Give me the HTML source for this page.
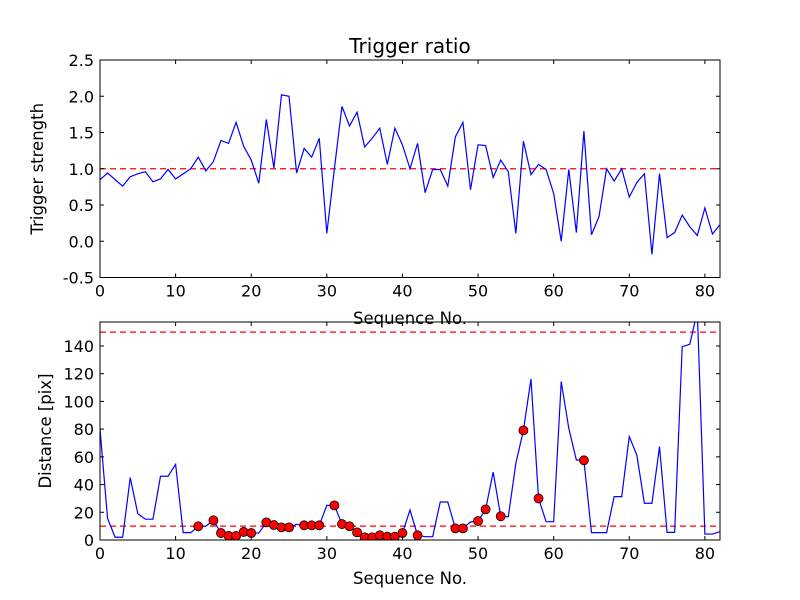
<!DOCTYPE html>
<html><head><meta charset="utf-8"><style>
body{margin:0;background:#fff}
svg{display:block;font-family:"DejaVu Sans","Liberation Sans",sans-serif}
</style></head><body>
<svg id="fig" width="800" height="600" xmlns="http://www.w3.org/2000/svg">
<rect width="800" height="600" fill="#fff"/>
<text x="410" y="53" font-size="20" text-anchor="middle">Trigger ratio</text>
<g id="top"></g>
<g id="bot"></g>
</svg>
<script>
const seqTop = [];
for (let i = 0; i <= 82; i++) seqTop.push(i);
const triggerStrength = [0.85,0.94,0.85,0.76,0.89,0.93,0.96,0.82,0.86,0.99,0.86,0.93,1.0,1.16,0.97,1.10,1.39,1.35,1.64,1.31,1.12,0.80,1.68,1.01,2.02,2.0,0.94,1.28,1.16,1.42,0.11,1.0,1.86,1.59,1.78,1.30,1.42,1.56,1.06,1.56,1.33,1.0,1.35,0.67,0.99,0.99,0.76,1.44,1.64,0.71,1.33,1.32,0.88,1.12,0.96,0.11,1.38,0.92,1.06,0.99,0.66,0.0,0.99,0.12,1.52,0.09,0.34,1.0,0.83,1.0,0.61,0.81,0.93,-0.18,0.93,0.05,0.12,0.36,0.20,0.08,0.46,0.10,0.23];
const distance = [80,15.6,2,2,45,19,15,15,46,46,54.6,5.3,5.3,9.9,10,14.2,5,3,3,5.8,5,5,12.7,10.8,9.1,9.1,11.3,10.6,10.6,10.6,25,25,11.5,9.9,5.5,2,2,3.4,2.4,2.4,5.0,21.6,3.4,2.4,2.4,27.4,27.4,8.4,8.4,13,13.7,22.1,49,17.1,16.8,55.3,79.1,116.2,30,13.2,13.2,114.3,80.6,57.7,57.5,5.3,5.3,5.3,31.3,31.3,74.6,61.3,26.5,26.5,67.4,5.5,5.5,139.5,141.2,165,4.3,4.3,6];
const markedIdx = [13,15,16,17,18,19,20,22,23,24,25,27,28,29,31,32,33,34,35,36,37,38,39,40,42,47,48,50,51,53,56,58,64];
const xTicks = [0,10,20,30,40,50,60,70,80];
const yTicksTop = [-0.5,0.0,0.5,1.0,1.5,2.0,2.5];
const yTicksBot = [0,20,40,60,80,100,120,140];
const refTop = [1.0];
const refBot = [10,150];

const NS = "http://www.w3.org/2000/svg";
function mk(tag, attrs, parent){const e=document.createElementNS(NS,tag);for(const k in attrs)e.setAttribute(k,attrs[k]);parent.appendChild(e);return e;}

function axes(g, cfg){
  const L=100,R=720,T=cfg.top,B=cfg.bottom;
  const xs=v=>L+(v-0)/(82-0)*(R-L);
  const ys=v=>B-(v-cfg.ymin)/(cfg.ymax-cfg.ymin)*(B-T);
  const clipId='clip'+cfg.id;
  const defs=mk('defs',{},g);
  const cp=mk('clipPath',{id:clipId},defs);
  mk('rect',{x:L,y:T,width:R-L,height:B-T},cp);
  const pg=mk('g',{'clip-path':'url(#'+clipId+')'},g);
  cfg.refs.forEach(v=>{
    const l=mk('line',{x1:L,x2:R,y1:ys(v),y2:ys(v),stroke:'#ff0000','stroke-width':1.2,'stroke-dasharray':'6,4'},pg);
    
    
  });
  const pts=cfg.data.map((v,i)=>xs(seqTop[i]).toFixed(2)+','+ys(v).toFixed(2)).join(' ');
  const pl=mk('polyline',{points:pts,fill:'none',stroke:'#0000ff','stroke-width':1.2},pg);
  
  
  if(cfg.markers){
    cfg.markers.forEach(i=>{
      const c=mk('circle',{cx:xs(seqTop[i]),cy:ys(cfg.data[i]),r:4.5,fill:'#ff0000',stroke:'#000','stroke-width':0.8},pg);
      
      
    });
  }
  const fr=mk('rect',{x:L,y:T,width:R-L,height:B-T,fill:'none',stroke:'#000','stroke-width':1},g);
  
  
  xTicks.forEach(v=>{
    const x=xs(v);
    mk('line',{x1:x,x2:x,y1:B,y2:B-4,stroke:'#000'},g);
    mk('line',{x1:x,x2:x,y1:T,y2:T+4,stroke:'#000'},g);
    const t=mk('text',{x:x,y:B+19,'font-size':16,'text-anchor':'middle'},g);
    t.textContent=String(v);
    
    
  });
  cfg.yticks.forEach(v=>{
    const y=ys(v);
    mk('line',{x1:L,x2:L+4,y1:y,y2:y,stroke:'#000'},g);
    mk('line',{x1:R,x2:R-4,y1:y,y2:y,stroke:'#000'},g);
    const t=mk('text',{x:L-6,y:y+6,'font-size':16,'text-anchor':'end'},g);
    t.textContent=cfg.fmt(v);
    
    
  });
  const xl=mk('text',{x:410,y:cfg.xlabelY,'font-size':16.5,'text-anchor':'middle'},g);
  xl.textContent='Sequence No.';
  
  
  const yl=mk('text',{x:0,y:0,'font-size':16.5,'text-anchor':'middle',transform:'translate('+cfg.ylabelX+','+((T+B)/2)+') rotate(-90)'},g);
  yl.textContent=cfg.ylabel;
  
  
}
axes(document.getElementById('top'),{id:'top',top:60,bottom:277.5,ymin:-0.5,ymax:2.5,data:triggerStrength,refs:refTop,yticks:yTicksTop,fmt:v=>v.toFixed(1),xlabelY:324,ylabelX:43,ylabel:'Trigger strength'});
axes(document.getElementById('bot'),{id:'bot',top:322,bottom:540,ymin:0,ymax:157.3,data:distance,refs:refBot,markers:markedIdx,yticks:yTicksBot,fmt:v=>String(v),xlabelY:584,ylabelX:51,ylabel:'Distance [pix]'});
</script>
</body></html>
